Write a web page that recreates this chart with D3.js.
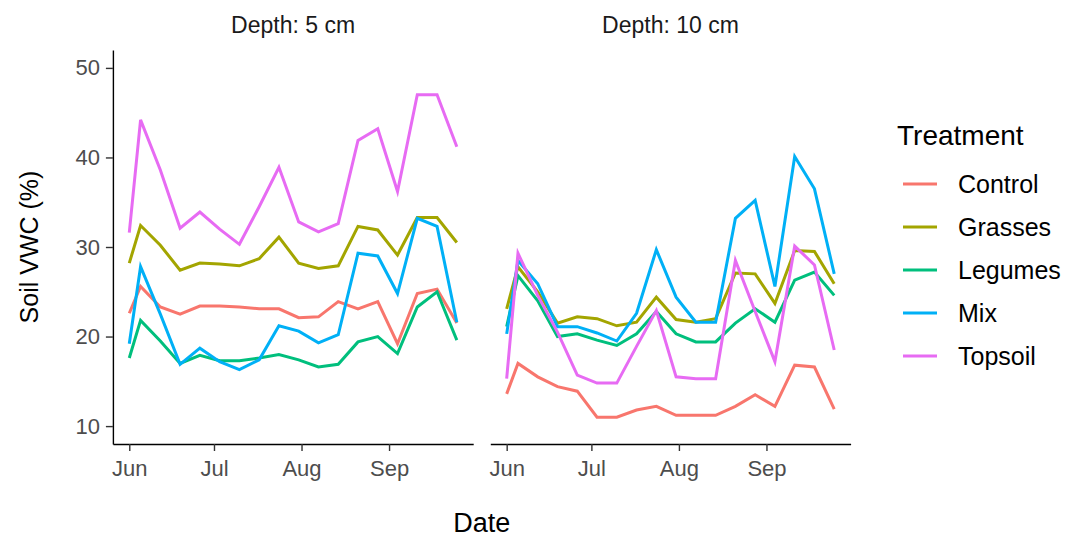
<!DOCTYPE html>
<html>
<head>
<meta charset="utf-8">
<script src="https://cdn.jsdelivr.net/npm/d3@7"></script>
<style>
  body { margin: 0; background: #fff; }
  svg { display: block; font-family: "Liberation Sans", Arial, sans-serif; }
</style>
</head>
<body>
<svg id="chart" width="1071" height="538"></svg>
<script>
// sampling dates (weekly, plus the first reading)
const dateStrings = ["2019-06-01", "2019-06-05", "2019-06-12", "2019-06-19", "2019-06-26", "2019-07-03",
  "2019-07-10", "2019-07-17", "2019-07-24", "2019-07-31", "2019-08-07", "2019-08-14",
  "2019-08-21", "2019-08-28", "2019-09-04", "2019-09-11", "2019-09-18", "2019-09-25"]

const treatments = ["Control", "Grasses", "Legumes", "Mix", "Topsoil"]
const treatmentColors = ["#F8766D", "#A3A500", "#00BF7D", "#00B0F6", "#E76BF3"]
const depths = ["Depth: 5 cm", "Depth: 10 cm"]
const yTicks = [10, 20, 30, 40, 50]

// depth 5 cm
const control5 = [22.6, 25.6, 23.3, 22.5, 23.4, 23.4, 23.3, 23.1, 23.1, 22.1, 22.2, 23.9, 23.1, 23.9, 19.2, 24.8, 25.3, 21.5]
const grasses5 = [28.2, 32.4, 30.2, 27.4, 28.2, 28.1, 27.9, 28.7, 31.1, 28.2, 27.6, 27.9, 32.3, 31.9, 29.1, 33.3, 33.3, 30.5]
const legumes5 = [17.6, 21.8, 19.5, 17.0, 17.9, 17.3, 17.3, 17.6, 18.0, 17.4, 16.6, 16.9, 19.4, 20.0, 18.1, 23.3, 25.0, 19.6]
const mix5 = [19.2, 27.8, 22.5, 16.9, 18.7, 17.2, 16.3, 17.4, 21.2, 20.6, 19.3, 20.2, 29.3, 29.0, 24.8, 33.2, 32.3, 21.6]
const topsoil5 = [31.6, 44.2, 38.6, 32.1, 33.9, 32.0, 30.3, 34.5, 38.9, 32.8, 31.7, 32.6, 41.9, 43.2, 36.2, 47.0, 47.0, 41.2]

// depth 10 cm
const control10 = [13.6, 17.0, 15.5, 14.4, 13.9, 11.0, 11.0, 11.8, 12.2, 11.2, 11.2, 11.2, 12.2, 13.5, 12.2, 16.8, 16.6, 11.9]
const grasses10 = [23.1, 27.8, 25.0, 21.5, 22.2, 22.0, 21.2, 21.6, 24.4, 21.9, 21.6, 22.0, 27.1, 27.0, 23.7, 29.6, 29.5, 25.9]
const legumes10 = [21.1, 26.8, 24.0, 20.0, 20.3, 19.6, 19.0, 20.3, 22.8, 20.3, 19.4, 19.4, 21.5, 23.1, 21.6, 26.3, 27.2, 24.6]
const mix10 = [20.3, 28.5, 25.9, 21.1, 21.1, 20.4, 19.5, 22.6, 29.7, 24.4, 21.6, 21.6, 33.2, 35.2, 25.6, 40.1, 36.5, 27.0]
const topsoil10 = [15.3, 29.3, 24.6, 20.5, 15.7, 14.8, 14.8, 18.9, 22.9, 15.5, 15.3, 15.3, 28.5, 22.8, 17.2, 30.1, 28.0, 18.5]

const panelSeries = [
  [control5, grasses5, legumes5, mix5, topsoil5],
  [control10, grasses10, legumes10, mix10, topsoil10]
]

const parseDate = d3.utcParse("%Y-%m-%d")
const dates = dateStrings.map(parseDate)

const svg = d3.select("#chart")

const plotTop = 50, plotBottom = 444
const panelLefts = [112.9, 490.3]
const panelWidth = 360.3

// ggplot-ish 5% expansion of the date range
const dateExtent = d3.extent(dates)
const span = dateExtent[1] - dateExtent[0]
const xDomain = [new Date(+dateExtent[0] - span * 0.05), new Date(+dateExtent[1] + span * 0.05)]

const y = d3.scaleLinear().domain([8, 52]).range([plotBottom, plotTop])

const color = d3.scaleOrdinal().domain(treatments).range(treatmentColors)

const tickFont = "22px"
const tickColor = "#4d4d4d"
const lineWidth = 3

depths.forEach((label, p) => {
  const x = d3.scaleUtc()
    .domain(xDomain)
    .range([panelLefts[p], panelLefts[p] + panelWidth])

  const g = svg.append("g")

  // strip label
  g.append("text")
    .attr("x", panelLefts[p] + panelWidth / 2)
    .attr("y", 33)
    .attr("text-anchor", "middle")
    .style("font-size", "23px")
    .style("fill", "#1a1a1a")
    .text(label)

  // lines
  const line = d3.line()
    .x((d, i) => x(dates[i]))
    .y(d => y(d))

  panelSeries[p].forEach((vals, k) => {
    g.append("path")
      .datum(vals)
      .attr("d", line)
      .attr("fill", "none")
      .attr("stroke", color(treatments[k]))
      .attr("stroke-width", lineWidth)
  })

  // x axis
  const xAxis = d3.axisBottom(x)
    .ticks(d3.utcMonth.every(1))
    .tickFormat(d3.utcFormat("%b"))
    .tickSize(7)
    .tickSizeOuter(0)
    .tickPadding(9)

  const ax = g.append("g")
    .attr("transform", `translate(0,${plotBottom})`)
    .call(xAxis)
  ax.select(".domain").attr("stroke", "#000").attr("stroke-width", 1.4)
  ax.selectAll(".tick line").attr("stroke", "#333").attr("stroke-width", 1.4)
  ax.selectAll(".tick text")
    .style("font-size", tickFont)
    .style("font-family", "Liberation Sans, Arial, sans-serif")
    .attr("fill", tickColor)

  // y axis only on the first panel
  if (p === 0) {
    const yAxis = d3.axisLeft(y)
      .tickValues(yTicks)
      .tickSize(7)
      .tickSizeOuter(0)
      .tickPadding(6)
    const ay = g.append("g")
      .attr("transform", `translate(${panelLefts[0]},0)`)
      .call(yAxis)
    ay.select(".domain").attr("stroke", "#000").attr("stroke-width", 1.4)
    ay.selectAll(".tick line").attr("stroke", "#333").attr("stroke-width", 1.4)
    ay.selectAll(".tick text")
      .style("font-size", tickFont)
      .style("font-family", "Liberation Sans, Arial, sans-serif")
      .attr("fill", tickColor)
  }
})

// axis titles
svg.append("text")
  .attr("x", (panelLefts[0] + panelLefts[1] + panelWidth) / 2)
  .attr("y", 532)
  .attr("text-anchor", "middle")
  .style("font-size", "27px")
  .text("Date")

svg.append("text")
  .attr("transform", `translate(38,${(plotTop + plotBottom) / 2}) rotate(-90)`)
  .attr("text-anchor", "middle")
  .style("font-size", "25px")
  .text("Soil VWC (%)")

// legend
const legend = svg.append("g").attr("transform", "translate(897,0)")
legend.append("text")
  .attr("x", 0)
  .attr("y", 145)
  .style("font-size", "28px")
  .text("Treatment")

const item = legend.selectAll("g.item")
  .data(treatments)
  .join("g")
  .attr("class", "item")
  .attr("transform", (d, i) => `translate(0,${184 + i * 43})`)

item.append("line")
  .attr("x1", 6).attr("x2", 40)
  .attr("stroke", d => color(d))
  .attr("stroke-width", lineWidth)

item.append("text")
  .attr("x", 61)
  .attr("dy", "0.35em")
  .style("font-size", "25px")
  .text(d => d)
</script>
</body>
</html>
